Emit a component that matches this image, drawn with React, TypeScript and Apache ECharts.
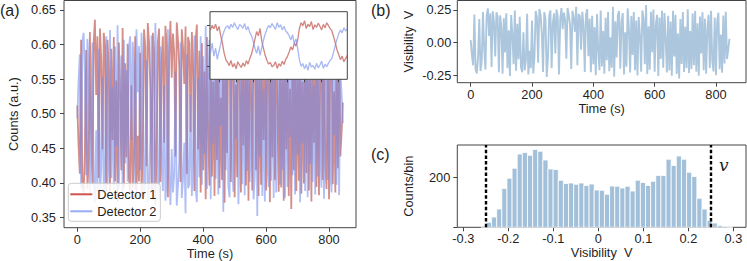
import React, { useEffect, useRef } from 'react';
import * as echarts from 'echarts';

// ---------- data ----------
const timeStep = 4; // s between samples
const detector1 = [
  0.512, 0.452, 0.413, 0.607, 0.398, 0.382, 0.443, 0.592, 0.391, 0.428, 0.618, 0.478, 0.397,
  0.603, 0.636, 0.527, 0.612, 0.407, 0.623, 0.578, 0.448, 0.617, 0.598, 0.386, 0.607, 0.563,
  0.383, 0.594, 0.462, 0.611, 0.402, 0.548, 0.372, 0.603, 0.532, 0.418, 0.624, 0.392, 0.573, 0.437, 0.601,
  0.408, 0.386, 0.541, 0.393, 0.433, 0.612, 0.378, 0.468, 0.402, 0.588, 0.381, 0.447,
  0.622, 0.597, 0.424, 0.631, 0.603, 0.538, 0.388, 0.617, 0.591, 0.368, 0.442, 0.604, 0.623, 0.401, 0.577, 0.612, 0.458, 0.627, 0.598, 0.379, 0.586, 0.634, 0.552,
  0.616, 0.588, 0.438, 0.632, 0.607, 0.568, 0.401, 0.622, 0.594, 0.543, 0.626, 0.413, 0.611, 0.602, 0.473, 0.618, 0.566, 0.388, 0.606, 0.629, 0.448, 0.591,
  0.386, 0.602, 0.418, 0.561, 0.376, 0.611, 0.468, 0.396, 0.621, 0.409, 0.546, 0.381, 0.596, 0.433, 0.617, 0.392, 0.523, 0.404, 0.628, 0.371, 0.582, 0.443, 0.604,
  0.621, 0.401, 0.577, 0.613, 0.379, 0.542, 0.408, 0.631, 0.557, 0.386, 0.603, 0.454, 0.616, 0.396, 0.587, 0.374, 0.597, 0.531, 0.389, 0.622,
  0.592, 0.418, 0.637, 0.381, 0.563, 0.397, 0.618, 0.462, 0.626, 0.389, 0.571, 0.607, 0.372, 0.596, 0.437, 0.621, 0.404, 0.612, 0.517, 0.387,
  0.602, 0.393, 0.581, 0.374, 0.622, 0.448, 0.607, 0.381, 0.536, 0.362, 0.592, 0.418, 0.617, 0.388, 0.563, 0.403, 0.627, 0.384, 0.546, 0.399,
  0.611, 0.414, 0.622, 0.389, 0.576, 0.373, 0.601, 0.458, 0.616, 0.394, 0.592, 0.382, 0.553, 0.607, 0.404, 0.621, 0.429, 0.391, 0.597, 0.376, 0.581, 0.616, 0.398, 0.532, 0.386, 0.604, 0.421, 0.619, 0.438, 0.473, 0.516,
];
const detector2 = [
  0.493, 0.548, 0.586, 0.392, 0.603, 0.617, 0.556, 0.411, 0.608, 0.572, 0.384, 0.522, 0.603,
  0.398, 0.371, 0.476, 0.388, 0.594, 0.382, 0.419, 0.553, 0.384, 0.403, 0.612, 0.397, 0.442,
  0.621, 0.407, 0.538, 0.386, 0.597, 0.453, 0.628, 0.392, 0.471, 0.584, 0.378, 0.607, 0.428, 0.563, 0.402,
  0.596, 0.612, 0.462, 0.604, 0.568, 0.391, 0.622, 0.531, 0.598, 0.418, 0.617, 0.553,
  0.379, 0.402, 0.578, 0.372, 0.393, 0.467, 0.613, 0.383, 0.412, 0.631, 0.557, 0.398, 0.376, 0.597, 0.427, 0.388, 0.541, 0.374, 0.401, 0.622, 0.412, 0.368, 0.449,
  0.386, 0.412, 0.561, 0.367, 0.396, 0.431, 0.603, 0.378, 0.407, 0.458, 0.356, 0.586, 0.392, 0.398, 0.527, 0.381, 0.437, 0.613, 0.393, 0.372, 0.552, 0.408,
  0.612, 0.397, 0.583, 0.442, 0.627, 0.391, 0.532, 0.607, 0.376, 0.592, 0.457, 0.618, 0.406, 0.567, 0.383, 0.611, 0.482, 0.596, 0.358, 0.632, 0.418, 0.556, 0.394,
  0.379, 0.602, 0.426, 0.387, 0.623, 0.463, 0.593, 0.369, 0.447, 0.614, 0.398, 0.548, 0.382, 0.607, 0.417, 0.626, 0.401, 0.472, 0.611, 0.376,
  0.409, 0.583, 0.352, 0.621, 0.438, 0.604, 0.381, 0.536, 0.373, 0.612, 0.429, 0.394, 0.628, 0.403, 0.561, 0.378, 0.597, 0.386, 0.486, 0.616,
  0.397, 0.606, 0.419, 0.627, 0.378, 0.553, 0.394, 0.622, 0.466, 0.636, 0.411, 0.582, 0.383, 0.613, 0.441, 0.596, 0.372, 0.617, 0.457, 0.602,
  0.388, 0.587, 0.379, 0.611, 0.427, 0.626, 0.401, 0.541, 0.383, 0.606, 0.409, 0.621, 0.446, 0.393, 0.598, 0.377, 0.572, 0.612, 0.404, 0.627, 0.418, 0.386, 0.602, 0.469, 0.617, 0.397, 0.581, 0.382, 0.563, 0.528, 0.486,
];

// inset (zoomed segment)
const insetStart = 0.5;
const insetStep = 0.1;
const insetDetector1 = [
  0.575, 0.598, 0.582, 0.604, 0.571, 0.593,
  0.548, 0.512, 0.463, 0.431,
  0.418, 0.402, 0.427, 0.395, 0.412, 0.386, 0.421, 0.404, 0.393, 0.415, 0.398, 0.426, 0.409, 0.437, 0.458,
  0.492, 0.531, 0.568, 0.547, 0.583, 0.521, 0.486, 0.452,
  0.428, 0.409, 0.417, 0.396, 0.402, 0.421, 0.388, 0.411, 0.399, 0.423, 0.407, 0.432, 0.446,
  0.468, 0.493, 0.478, 0.512, 0.497, 0.528, 0.583,
  0.612, 0.596, 0.621, 0.583, 0.604, 0.592, 0.617, 0.578, 0.601, 0.588, 0.609, 0.594, 0.576, 0.603, 0.586, 0.611, 0.597, 0.582, 0.571,
  0.543, 0.512, 0.478, 0.456, 0.431, 0.448, 0.421, 0.436, 0.452,
];
const insetDetector2 = [
  0.463, 0.512, 0.448, 0.487, 0.432, 0.471,
  0.508, 0.546, 0.571, 0.589,
  0.597, 0.581, 0.604, 0.588, 0.611, 0.593, 0.578, 0.602, 0.596, 0.584, 0.607, 0.576, 0.592, 0.563, 0.548,
  0.521, 0.487, 0.462, 0.498, 0.452, 0.489, 0.527, 0.556,
  0.579, 0.598, 0.586, 0.607, 0.593, 0.578, 0.612, 0.589, 0.601, 0.576, 0.594, 0.571, 0.562,
  0.548, 0.527, 0.553, 0.509, 0.532, 0.486, 0.431,
  0.398, 0.412, 0.386, 0.407, 0.379, 0.418, 0.395, 0.402, 0.384, 0.413, 0.391, 0.405, 0.423, 0.388, 0.409, 0.396, 0.414, 0.428, 0.437,
  0.468, 0.502, 0.531, 0.558, 0.576, 0.562, 0.587, 0.571, 0.583,
];

// histogram of visibility
const histBinStart = -0.26;
const histBinWidth = 0.0114;
const histCounts = [
  5, 20, 41, 73, 155, 196, 236, 293, 299, 288, 311, 304, 269, 233, 231, 188, 175, 177, 172, 177,
  167, 173, 149, 148, 132, 165, 164, 157, 164, 145, 188, 179, 167, 184, 207, 207, 272, 247, 285, 272,
  220, 203, 116, 73, 27, 17, 7, 4, 1,
];
const visibilityBounds = [-0.251, 0.254];

// tick values
const countTicks = [0.35, 0.4, 0.45, 0.5, 0.55, 0.6, 0.65];
const timeTicks = [0, 200, 400, 600, 800];
const visTicks = [-0.25, 0, 0.25];
const histXTicks = [-0.3, -0.2, -0.1, 0, 0.1, 0.2, 0.3];
const histYTickMarks = [0, 200];
const histYTickLabels = [200];
const insetXTicks = [1, 2, 3, 4, 5, 6, 7, 8];
const insetYTicks = [0.4, 0.5, 0.6];

// ---------- style ----------
const FONT = '"Liberation Sans", Arial, sans-serif';
const INK = '#1f1f1f';
const FS = 12.8;
const BORDER = '#444';

const txt = { fontFamily: FONT, fontSize: FS, color: INK };

function axis(o: any) {
  return {
    type: 'value',
    gridIndex: o.grid,
    min: o.min,
    max: o.max,
    axisLine: { show: false, onZero: false },
    splitLine: { show: false },
    axisTick: {
      show: o.ticks !== false,
      length: o.tickLen ?? 4,
      lineStyle: { color: BORDER, width: 1 },
      customValues: o.tickValues,
    },
    axisLabel: o.labelValues
      ? { ...txt, margin: o.margin ?? 5, customValues: o.labelValues, formatter: o.fmt }
      : { show: false },
    name: o.name,
    nameLocation: 'middle',
    nameGap: o.nameGap,
    nameMoveOverlap: o.moveName ?? true,
    nameTextStyle: { ...txt },
    z: o.z ?? 0,
  };
}

export default function App() {
  const ref = useRef<HTMLDivElement>(null);
  useEffect(() => {
    if (!ref.current) return;
    const chart = echarts.init(ref.current, null, { renderer: 'svg' });

    const d1 = detector1.map((v, i) => [i * timeStep, v]);
    const d2 = detector2.map((v, i) => [i * timeStep, v]);
    const vis = detector1.map((v, i) => [i * timeStep, (v - detector2[i]) / (v + detector2[i])]);
    const in1 = insetDetector1.map((v, i) => [insetStart + i * insetStep, v]);
    const in2 = insetDetector2.map((v, i) => [insetStart + i * insetStep, v]);
    const hist = histCounts.map((c, i) => [
      histBinStart + i * histBinWidth,
      histBinStart + (i + 1) * histBinWidth,
      c,
    ]);

    const RED = '#b8433c';
    const BLUE = '#7088ec';
    const STEEL = '#4682b4';

    const gridBase = { show: true, borderColor: BORDER, borderWidth: 1, containLabel: false, outerBoundsMode: 'none' };

    chart.setOption({
      animation: false,
      backgroundColor: '#fff',
      grid: [
        { ...gridBase, left: 64, top: 0.5, width: 292, height: 227.2, backgroundColor: 'transparent', z: 0 },
        { ...gridBase, left: 210, top: 11.7, width: 137.3, height: 67.6, backgroundColor: '#fff', z: 10 },
        { ...gridBase, left: 457.3, top: 0.5, width: 288.7, height: 82.2, backgroundColor: 'transparent' },
        { ...gridBase, left: 457.3, top: 145, width: 288.7, height: 82.3, backgroundColor: 'transparent' },
      ],
      xAxis: [
        axis({ grid: 0, min: -42.3, max: 885.7, tickValues: timeTicks, labelValues: timeTicks, fmt: (v: number) => String(Math.round(v)), name: 'Time (s)', nameGap: 19, moveName: false, margin: 5 }),
        axis({ grid: 1, min: 0.474, max: 8.5, tickValues: insetXTicks, tickLen: 3, z: 11 }),
        axis({ grid: 2, min: -43.7, max: 898, tickValues: timeTicks, labelValues: timeTicks, fmt: (v: number) => String(Math.round(v)), name: 'Time (s)', nameGap: 19, moveName: false, margin: 5 }),
        axis({ grid: 3, min: -0.3133, max: 0.328, tickValues: histXTicks, labelValues: histXTicks, fmt: (v: number) => (Math.abs(v) < 1e-9 ? '0' : v.toFixed(1)), name: 'Visibility  V', nameGap: 19, moveName: false, margin: 5 }),
      ],
      yAxis: [
        axis({ grid: 0, min: 0.335, max: 0.6637, tickValues: countTicks, labelValues: countTicks, fmt: (v: number) => v.toFixed(2), name: 'Counts (a.u.)', nameGap: 44, margin: 8 }),
        axis({ grid: 1, min: 0.335, max: 0.665, tickValues: insetYTicks, tickLen: 3, z: 11 }),
        axis({ grid: 2, min: -0.3066, max: 0.3227, tickValues: visTicks, labelValues: visTicks, fmt: (v: number) => v.toFixed(2), name: 'Visibility  V', nameGap: 42, margin: 6 }),
        axis({ grid: 3, min: 0, max: 329, tickValues: histYTickMarks, labelValues: histYTickLabels, fmt: (v: number) => String(v), name: 'Counts/bin', nameGap: 42, margin: 7 }),
      ],
      legend: {
        left: 68.3,
        top: 183.3,
        orient: 'vertical',
        icon: 'rect',
        itemWidth: 22,
        itemHeight: 2,
        itemGap: 3,
        padding: [4, 4, 3, 2],
        backgroundColor: 'rgba(255,255,255,0.85)',
        borderColor: '#cccccc',
        borderWidth: 1,
        borderRadius: 3,
        textStyle: { ...txt, lineHeight: 14 },
        data: [
          { name: 'Detector 1', itemStyle: { color: '#cf5451' } },
          { name: 'Detector 2', itemStyle: { color: '#97aaf2' } },
        ],
        z: 20,
      },
      series: [
        {
          type: 'line', name: 'Detector 1', xAxisIndex: 0, yAxisIndex: 0, data: d1,
          showSymbol: false, symbol: 'none', color: RED,
          lineStyle: { color: RED, width: 1.8, opacity: 0.6 }, z: 2,
        },
        {
          type: 'line', name: 'Detector 2', xAxisIndex: 0, yAxisIndex: 0, data: d2,
          showSymbol: false, symbol: 'none', color: BLUE,
          lineStyle: { color: BLUE, width: 1.8, opacity: 0.55 }, z: 3,
        },
        {
          type: 'line', name: 'inset1', xAxisIndex: 1, yAxisIndex: 1, data: in1,
          showSymbol: false, symbol: 'none',
          lineStyle: { color: RED, width: 1.3, opacity: 0.65 }, z: 12,
        },
        {
          type: 'line', name: 'inset2', xAxisIndex: 1, yAxisIndex: 1, data: in2,
          showSymbol: false, symbol: 'none',
          lineStyle: { color: BLUE, width: 1.3, opacity: 0.6 }, z: 12,
        },
        {
          type: 'line', name: 'visibility', xAxisIndex: 2, yAxisIndex: 2, data: vis,
          showSymbol: false, symbol: 'none',
          lineStyle: { color: STEEL, width: 1.9, opacity: 0.45 },
        },
        {
          type: 'custom', name: 'hist', xAxisIndex: 3, yAxisIndex: 3, data: hist,
          encode: { x: [0, 1], y: 2 },
          renderItem: (_p: any, api: any) => {
            const tl = api.coord([api.value(0), api.value(2)]);
            const br = api.coord([api.value(1), 0]);
            return {
              type: 'rect',
              shape: { x: tl[0], y: tl[1], width: br[0] - tl[0], height: br[1] - tl[1] },
              style: { fill: '#a3c0da', stroke: '#ffffff', lineWidth: 0.8 },
            };
          },
        },
        {
          type: 'line', name: 'bounds', xAxisIndex: 3, yAxisIndex: 3, data: [],
          markLine: {
            silent: true, symbol: ['none', 'none'], label: { show: false },
            lineStyle: { color: '#000', width: 2.4, type: [3.5, 2.2] },
            data: visibilityBounds.map((v) => ({ xAxis: v })),
          },
          z: 5,
        },
      ],
      graphic: [
        { type: 'text', left: 0, top: 2, style: { text: '(a)', font: `16px ${FONT}`, fill: INK } },
        { type: 'text', left: 371, top: 2, style: { text: '(b)', font: `16px ${FONT}`, fill: INK } },
        { type: 'text', left: 371, top: 146, style: { text: '(c)', font: `16px ${FONT}`, fill: INK } },
        { type: 'text', left: 719, top: 156, style: { text: 'v', font: `italic 17px "DejaVu Serif", serif`, fill: INK } },
      ],
    });
    return () => chart.dispose();
  }, []);
  return <div ref={ref} style={{ position: 'fixed', left: 0, top: 0, width: 747, height: 261 }} />;
}
